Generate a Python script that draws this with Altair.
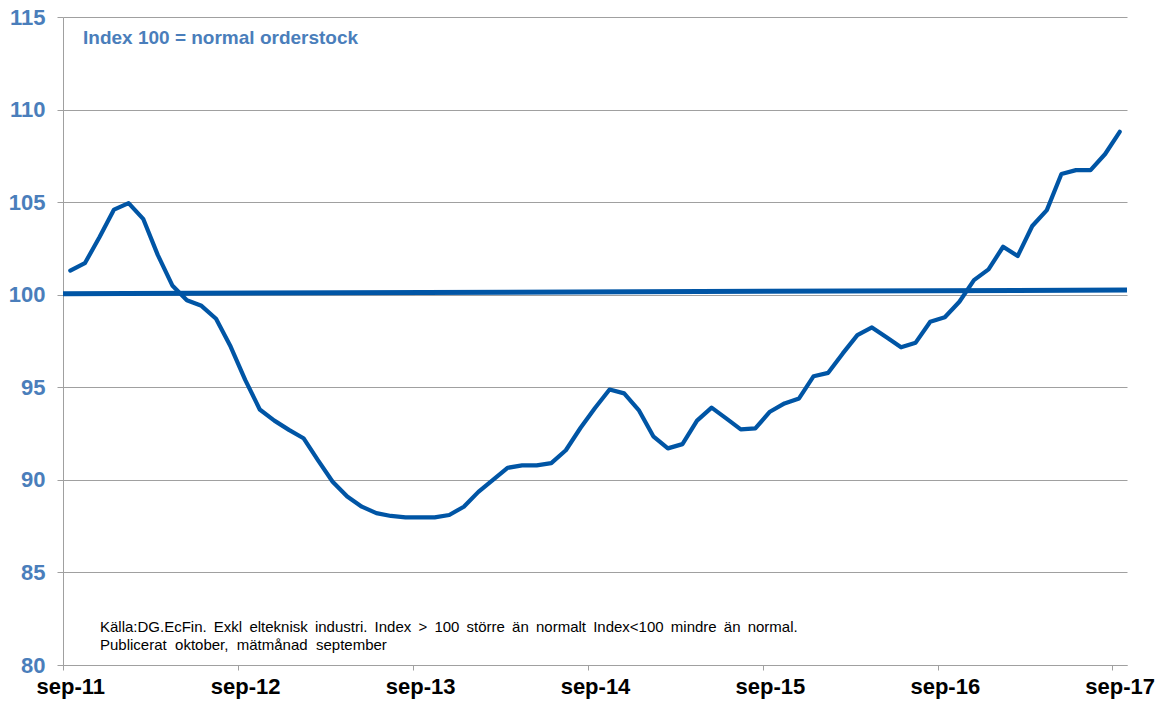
import altair as alt
import pandas as pd

# Monthly index, sep-11 .. sep-17 (73 months)
values = [
    101.3, 101.7, 103.1, 104.6, 104.95, 104.1, 102.15, 100.5, 99.7, 99.4,
    98.7, 97.2, 95.4, 93.8, 93.2, 92.7, 92.25, 91.05, 89.9, 89.1,
    88.55, 88.2, 88.05, 87.97, 87.97, 87.97, 88.1, 88.55, 89.35, 90.0,
    90.65, 90.78, 90.78, 90.9, 91.6, 92.8, 93.88, 94.88, 94.67, 93.77,
    92.35, 91.7, 91.93, 93.2, 93.9, 93.32, 92.73, 92.78, 93.68, 94.13,
    94.4, 95.6, 95.78, 96.83, 97.82, 98.23, 97.7, 97.16, 97.41, 98.54,
    98.78, 99.62, 100.79, 101.37, 102.59, 102.09, 103.71, 104.57, 106.52, 106.73,
    106.73, 107.6, 108.8,
]
month_index = list(range(len(values)))

# "normal" reference line (Index 100), edges of the category axis
normal_x = [-0.5, 72.5]
normal_y = [100.05, 100.25]

year_labels = ["sep-11", "sep-12", "sep-13", "sep-14", "sep-15", "sep-16", "sep-17"]
tick_positions = [-0.5, 11.5, 23.5, 35.5, 47.5, 59.5, 71.5]
y_ticks = [80, 85, 90, 95, 100, 105, 110, 115]

title_text = "Index 100 = normal orderstock"
THIN = "\u2009"
NB = "\u00a0"
note_line1 = (" " + THIN).join(
    ["Källa:DG.EcFin.", "Exkl", "elteknisk", "industri.", "Index", ">", "100",
     "större", "än", "normalt", "Index<100", "mindre", "än", "normal."]
)
note_line2 = (" " + NB).join(["Publicerat", "oktober,", "mätmånad", "september"])

FONT = "Liberation Sans"
LINE_BLUE = "#0055A5"
TEXT_BLUE = "#4A7EBB"
GRID = "#A0A0A0"

df = pd.DataFrame({"m": month_index, "v": values})
df_norm = pd.DataFrame({"m": normal_x, "v": normal_y})

label_array = "[" + ",".join("'%s'" % s for s in year_labels) + "]"

x_scale = alt.Scale(domain=[-0.5, 72.5], nice=False, zero=False)
y_scale = alt.Scale(domain=[80, 115], nice=False, zero=False)

x_axis = alt.Axis(
    values=tick_positions,
    labelExpr=label_array + "[round((datum.value + 0.5) / 12)]",
    labelOffset=7.3,
    labelFlush=False,
    labelOverlap=False,
    labelBound=False,
    labelFont=FONT,
    labelFontSize=22,
    labelFontWeight="bold",
    labelColor="#000000",
    labelPadding=6,
    tickSize=5,
    tickColor=GRID,
    domainColor=GRID,
    grid=False,
    title=None,
)
y_axis = alt.Axis(
    values=y_ticks,
    labelFont=FONT,
    labelFontSize=22,
    labelFontWeight="bold",
    labelColor=TEXT_BLUE,
    labelPadding=12,
    tickSize=6,
    tickColor=GRID,
    domainColor=GRID,
    gridColor=GRID,
    gridWidth=1,
    title=None,
)

normal_line = alt.Chart(df_norm).mark_line(color=LINE_BLUE, strokeWidth=5, clip=False).encode(
    x=alt.X("m:Q", scale=x_scale, axis=x_axis),
    y=alt.Y("v:Q", scale=y_scale, axis=y_axis),
)

series_line = alt.Chart(df).mark_line(color=LINE_BLUE, strokeWidth=4.2, strokeJoin="round", strokeCap="round").encode(
    x=alt.X("m:Q", scale=x_scale),
    y=alt.Y("v:Q", scale=y_scale),
)

title_mark = alt.Chart(pd.DataFrame({"t": [title_text]})).mark_text(
    align="left", baseline="middle", font=FONT, fontSize=19, fontWeight="bold", color=TEXT_BLUE
).encode(x=alt.value(20), y=alt.value(21), text="t:N")

note1 = alt.Chart(pd.DataFrame({"t": [note_line1]})).mark_text(
    align="left", baseline="middle", font=FONT, fontSize=15, color="#000000"
).encode(x=alt.value(37), y=alt.value(610), text="t:N")

note2 = alt.Chart(pd.DataFrame({"t": [note_line2]})).mark_text(
    align="left", baseline="middle", font=FONT, fontSize=15, color="#000000"
).encode(x=alt.value(37), y=alt.value(628), text="t:N")

chart = alt.layer(normal_line, series_line, title_mark, note1, note2).properties(
    width=1064,
    height=648,
    autosize=alt.AutoSizeParams(type="none"),
    padding={"left": 63, "top": 17, "right": 34, "bottom": 42},
    background="#FFFFFF",
).configure_view(stroke=None)

chart.save("out.html", embed_options={"renderer": "svg", "actions": False})
